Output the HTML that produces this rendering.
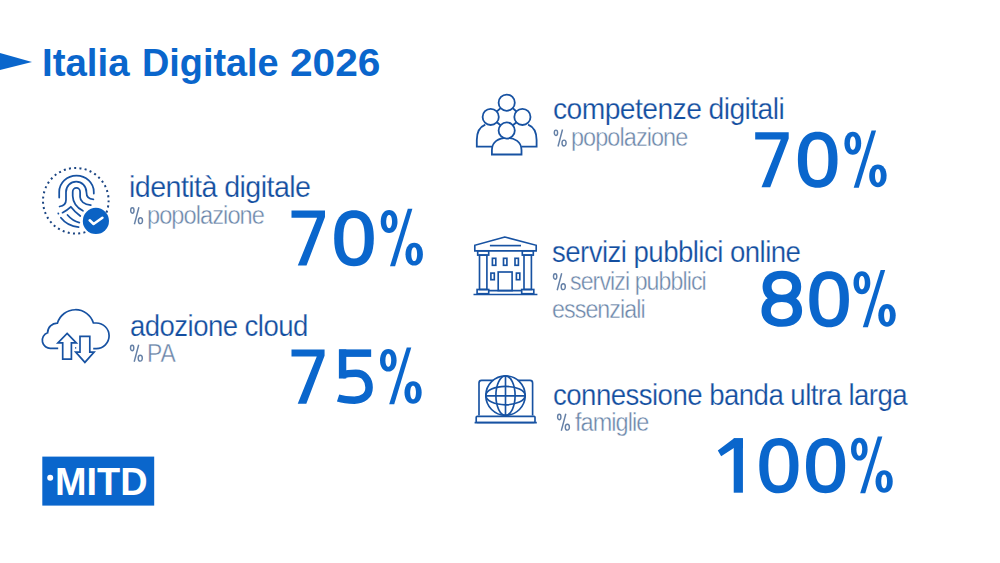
<!DOCTYPE html>
<html><head><meta charset="utf-8"><style>
html,body{margin:0;padding:0;background:#fff;width:1000px;height:563px;overflow:hidden}
.t{position:absolute;font-family:"Liberation Sans",sans-serif;line-height:1;white-space:nowrap;transform-origin:0 0}
svg{position:absolute;left:0;top:0}
</style></head><body>
<svg width="1000" height="563" viewBox="0 0 1000 563">
<polygon points="0,53 32,62 0,70" fill="#0a66cc"/>
<rect x="42.3" y="456.6" width="111.9" height="49" fill="#0a66cc"/>
<circle cx="50.2" cy="477.8" r="3" fill="#fff"/>
<g fill="none" stroke="#1752a2" stroke-width="1.75" stroke-linecap="round" stroke-linejoin="round">
<!-- fingerprint -->
<circle cx="75.8" cy="200.75" r="32.8" stroke-dasharray="2 3.284" stroke-dashoffset="0.537" stroke-width="2" stroke-linecap="butt" stroke="#1a4482"/>
<path d="M59.2,197.5 V192 A17.3,16.4 0 0 1 93.8,192 V193.6"/>
<path d="M59.6,206.5 C63,206 66,204.5 66,200 V192 A10.2,10.4 0 0 1 86.4,192 C86.4,196 88.5,199.2 93.4,199.3"/>
<path d="M82.9,210.8 C77.5,208 73,203 72.7,196 V192 A3.7,4 0 0 1 80.1,192 V197 C80.1,201 84,204.5 90.8,205.2"/>
<path d="M62.5,212.7 C65.5,211 68.5,209 70.8,206.8 C73.5,210.5 77,213.5 80.3,216"/>
<path d="M67.5,215 C70.5,218.5 74.5,221.5 79.3,222.6"/>
<path d="M60.9,217.7 C65,223 71,226.3 78.6,227.2"/>
<path d="M58.3,213.4 L58.4,213.6"/>
</g>
<circle cx="95.9" cy="220.9" r="13.1" fill="#0a62c4"/>
<path d="M89.7,220.3 L93.6,224 L102.4,217.8" fill="none" stroke="#fff" stroke-width="2.6" stroke-linecap="round" stroke-linejoin="round"/>
<g fill="none" stroke="#1752a2" stroke-width="1.7" stroke-linejoin="miter">
<!-- cloud -->
<path d="M58.2,348.3 H51 A8,8 0 0 1 47.6,332.8 A9.6,9.6 0 0 1 57.4,323.2 A18.8,18.8 0 0 1 93.4,323 H96.3 A12.8,12.8 0 0 1 96.3,348.6 H93.2"/><path d="M75.2,347.9 h1"/>
<polygon points="67.1,333.4 76.3,342.9 71.4,342.9 71.4,359.1 62.7,359.1 62.7,342.9 57.9,342.9"/>
<polygon points="80,336.4 89.8,336.4 89.8,352.1 94.1,352.1 84.9,362.4 75.7,352.1 80,352.1"/>
</g>
<g stroke="#1752a2" stroke-width="1.8" fill="#fff">
<!-- people -->
<path d="M496.8,111.5 L500.6,108.1 M516.3,111.5 L512.8,108.1 M496.9,122.2 L500.5,125.3 M516.5,122.2 L512.9,125.3" fill="none"/>
<path d="M485.3,124.6 C479.5,127 476.8,133 476.8,140 V146.7 H492"/>
<path d="M528.1,124.6 C533.9,127 536.6,133 536.6,140 V146.7 H521.5"/>
<circle cx="490.7" cy="116.9" r="8.1"/>
<circle cx="522.4" cy="116.9" r="8.1"/>
<circle cx="506.7" cy="102.7" r="8.1"/>
<path d="M491.9,154.5 V150 C491.9,142 498.5,137.8 506.7,137.8 C514.9,137.8 521.5,142 521.5,150 V154.5 Z"/>
<circle cx="506.7" cy="130.5" r="8.1"/>
</g>
<g stroke="#1752a2" stroke-width="1.65" fill="none">
<!-- building -->
<polygon points="504.9,237 474.8,245.3 474.8,250.8 536.2,250.8 536.2,245.3"/>
<line x1="489.9" y1="245.6" x2="521" y2="245.6"/>
<rect x="477.7" y="250.8" width="11" height="4.3"/>
<rect x="522.3" y="250.8" width="11" height="4.3"/>
<rect x="479.5" y="255.1" width="7.4" height="34.4"/>
<rect x="524" y="255.1" width="7.4" height="34.4"/>
<rect x="477.1" y="289.5" width="11.6" height="4.2"/>
<rect x="521.7" y="289.5" width="12.1" height="4.2"/>
<rect x="492.4" y="258.3" width="3.4" height="7"/>
<rect x="503.5" y="258.3" width="3.4" height="7"/>
<rect x="515" y="258.3" width="3.4" height="7"/>
<rect x="490.9" y="273.1" width="3.4" height="6.6"/>
<rect x="516.4" y="273.1" width="3.4" height="6.6"/>
<rect x="498.2" y="272" width="13.9" height="18.6"/>
<line x1="488.7" y1="290.6" x2="521.7" y2="290.6"/>
<line x1="473.5" y1="294.5" x2="537.4" y2="294.5"/>
<!-- globe laptop -->
<path d="M479,415.6 V383 Q479,380.4 481.6,380.4 H530 Q532.6,380.4 532.6,383 V415.6"/>
<rect x="476.2" y="416.3" width="58.8" height="6.2" rx="1"/>
<line x1="474.6" y1="422.6" x2="536.8" y2="422.6" stroke-width="1.6"/>
<circle cx="505.5" cy="395.6" r="19.7" fill="#fff"/>
<ellipse cx="505.5" cy="395.6" rx="19.7" ry="9.2"/>
<ellipse cx="505.5" cy="395.6" rx="9.6" ry="19.7"/>
<line x1="505.5" y1="376" x2="505.5" y2="415.3"/>
<line x1="485.8" y1="395.8" x2="525.2" y2="395.8"/>
</g>
<g transform="translate(291.5,265.6) scale(1.0)"><polygon points="0,-55 33.5,-55 33.5,-48.6 15,0 6.3,0 25.6,-47.8 0,-47.8" fill="#0a66cc"/></g>
<g transform="translate(334.2,265.6) scale(1.0)"><path d="M19.80,-55.40 C32.87,-55.40 39.60,-45.88 39.60,-27.40 C39.60,-8.92 32.87,0.60 19.80,0.60 C6.73,0.60 0.00,-8.92 0.00,-27.40 C0.00,-45.88 6.73,-55.40 19.80,-55.40 Z" fill="#0a66cc"/><path d="M19.80,-47.60 C27.50,-47.60 30.50,-41.94 30.50,-27.40 C30.50,-12.86 27.50,-7.20 19.80,-7.20 C12.10,-7.20 9.10,-12.86 9.10,-27.40 C9.10,-41.94 12.10,-47.60 19.80,-47.60 Z" fill="#fff"/></g>
<g transform="translate(380.7,265.6) scale(1.0)"><path d="M8.40,-55.50 C13.44,-55.50 16.80,-50.90 16.80,-44.00 C16.80,-37.10 13.44,-32.50 8.40,-32.50 C3.36,-32.50 0.00,-37.10 0.00,-44.00 C0.00,-50.90 3.36,-55.50 8.40,-55.50 Z" fill="#0a66cc"/><path d="M8.40,-50.60 C10.14,-50.60 11.30,-47.96 11.30,-44.00 C11.30,-40.04 10.14,-37.40 8.40,-37.40 C6.66,-37.40 5.50,-40.04 5.50,-44.00 C5.50,-47.96 6.66,-50.60 8.40,-50.60 Z" fill="#fff"/><path d="M33.50,-22.80 C38.72,-22.80 42.20,-18.24 42.20,-11.40 C42.20,-4.56 38.72,0.00 33.50,0.00 C28.28,0.00 24.80,-4.56 24.80,-11.40 C24.80,-18.24 28.28,-22.80 33.50,-22.80 Z" fill="#0a66cc"/><path d="M33.50,-18.30 C35.24,-18.30 36.40,-15.54 36.40,-11.40 C36.40,-7.26 35.24,-4.50 33.50,-4.50 C31.76,-4.50 30.60,-7.26 30.60,-11.40 C30.60,-15.54 31.76,-18.30 33.50,-18.30 Z" fill="#fff"/><polygon points="27.1,-56.8 31.7,-56.8 14.4,0.6 9.3,0.6" fill="#0a66cc"/></g>
<g transform="translate(291.5,403.7) scale(0.9872727272727272)"><polygon points="0,-55 33.5,-55 33.5,-48.6 15,0 6.3,0 25.6,-47.8 0,-47.8" fill="#0a66cc"/></g>
<g transform="translate(337.1,403.7) scale(0.9872727272727272)"><rect x="2.1" y="-55" width="32.4" height="7.6" fill="#0a66cc"/><rect x="1.8" y="-55" width="7.5" height="29.5" fill="#0a66cc"/><path d="M5.5,-29.2 C10,-30.6 15,-30.8 19,-30.8 C27.5,-30.8 32.4,-24.5 32.4,-16.5 C32.4,-8 26,-3.6 17.5,-3.6 C10,-3.6 5,-4.5 1,-5.8" fill="none" stroke="#0a66cc" stroke-width="7.6"/></g>
<g transform="translate(380.0,403.7) scale(0.9872727272727272)"><path d="M8.40,-55.50 C13.44,-55.50 16.80,-50.90 16.80,-44.00 C16.80,-37.10 13.44,-32.50 8.40,-32.50 C3.36,-32.50 0.00,-37.10 0.00,-44.00 C0.00,-50.90 3.36,-55.50 8.40,-55.50 Z" fill="#0a66cc"/><path d="M8.40,-50.60 C10.14,-50.60 11.30,-47.96 11.30,-44.00 C11.30,-40.04 10.14,-37.40 8.40,-37.40 C6.66,-37.40 5.50,-40.04 5.50,-44.00 C5.50,-47.96 6.66,-50.60 8.40,-50.60 Z" fill="#fff"/><path d="M33.50,-22.80 C38.72,-22.80 42.20,-18.24 42.20,-11.40 C42.20,-4.56 38.72,0.00 33.50,0.00 C28.28,0.00 24.80,-4.56 24.80,-11.40 C24.80,-18.24 28.28,-22.80 33.50,-22.80 Z" fill="#0a66cc"/><path d="M33.50,-18.30 C35.24,-18.30 36.40,-15.54 36.40,-11.40 C36.40,-7.26 35.24,-4.50 33.50,-4.50 C31.76,-4.50 30.60,-7.26 30.60,-11.40 C30.60,-15.54 31.76,-18.30 33.50,-18.30 Z" fill="#fff"/><polygon points="27.1,-56.8 31.7,-56.8 14.4,0.6 9.3,0.6" fill="#0a66cc"/></g>
<g transform="translate(755.2,187.2) scale(1.0)"><polygon points="0,-55 33.5,-55 33.5,-48.6 15,0 6.3,0 25.6,-47.8 0,-47.8" fill="#0a66cc"/></g>
<g transform="translate(797.9,187.2) scale(1.0)"><path d="M19.80,-55.40 C32.87,-55.40 39.60,-45.88 39.60,-27.40 C39.60,-8.92 32.87,0.60 19.80,0.60 C6.73,0.60 0.00,-8.92 0.00,-27.40 C0.00,-45.88 6.73,-55.40 19.80,-55.40 Z" fill="#0a66cc"/><path d="M19.80,-47.60 C27.50,-47.60 30.50,-41.94 30.50,-27.40 C30.50,-12.86 27.50,-7.20 19.80,-7.20 C12.10,-7.20 9.10,-12.86 9.10,-27.40 C9.10,-41.94 12.10,-47.60 19.80,-47.60 Z" fill="#fff"/></g>
<g transform="translate(844.4,187.2) scale(1.0)"><path d="M8.40,-55.50 C13.44,-55.50 16.80,-50.90 16.80,-44.00 C16.80,-37.10 13.44,-32.50 8.40,-32.50 C3.36,-32.50 0.00,-37.10 0.00,-44.00 C0.00,-50.90 3.36,-55.50 8.40,-55.50 Z" fill="#0a66cc"/><path d="M8.40,-50.60 C10.14,-50.60 11.30,-47.96 11.30,-44.00 C11.30,-40.04 10.14,-37.40 8.40,-37.40 C6.66,-37.40 5.50,-40.04 5.50,-44.00 C5.50,-47.96 6.66,-50.60 8.40,-50.60 Z" fill="#fff"/><path d="M33.50,-22.80 C38.72,-22.80 42.20,-18.24 42.20,-11.40 C42.20,-4.56 38.72,0.00 33.50,0.00 C28.28,0.00 24.80,-4.56 24.80,-11.40 C24.80,-18.24 28.28,-22.80 33.50,-22.80 Z" fill="#0a66cc"/><path d="M33.50,-18.30 C35.24,-18.30 36.40,-15.54 36.40,-11.40 C36.40,-7.26 35.24,-4.50 33.50,-4.50 C31.76,-4.50 30.60,-7.26 30.60,-11.40 C30.60,-15.54 31.76,-18.30 33.50,-18.30 Z" fill="#fff"/><polygon points="27.1,-56.8 31.7,-56.8 14.4,0.6 9.3,0.6" fill="#0a66cc"/></g>
<g transform="translate(761.9,326.7) scale(1.0)"><path d="M20.00,-55.90 C31.97,-55.90 39.30,-49.84 39.30,-39.95 C39.30,-30.06 31.97,-24.00 20.00,-24.00 C8.03,-24.00 0.70,-30.06 0.70,-39.95 C0.70,-49.84 8.03,-55.90 20.00,-55.90 Z" fill="#0a66cc"/><path d="M19.90,-32.10 C32.49,-32.10 40.20,-25.98 40.20,-16.00 C40.20,-6.02 32.49,0.10 19.90,0.10 C7.31,0.10 -0.40,-6.02 -0.40,-16.00 C-0.40,-25.98 7.31,-32.10 19.90,-32.10 Z" fill="#0a66cc"/><path d="M19.95,-47.90 C26.30,-47.90 30.20,-44.88 30.20,-39.95 C30.20,-35.02 26.30,-32.00 19.95,-32.00 C13.59,-32.00 9.70,-35.02 9.70,-39.95 C9.70,-44.88 13.59,-47.90 19.95,-47.90 Z" fill="#fff"/><path d="M19.90,-24.70 C26.94,-24.70 30.90,-21.60 30.90,-16.10 C30.90,-10.60 26.94,-7.50 19.90,-7.50 C12.86,-7.50 8.90,-10.60 8.90,-16.10 C8.90,-21.60 12.86,-24.70 19.90,-24.70 Z" fill="#fff"/></g>
<g transform="translate(809.3,326.7) scale(1.0)"><path d="M19.80,-55.40 C32.87,-55.40 39.60,-45.88 39.60,-27.40 C39.60,-8.92 32.87,0.60 19.80,0.60 C6.73,0.60 0.00,-8.92 0.00,-27.40 C0.00,-45.88 6.73,-55.40 19.80,-55.40 Z" fill="#0a66cc"/><path d="M19.80,-47.60 C27.50,-47.60 30.50,-41.94 30.50,-27.40 C30.50,-12.86 27.50,-7.20 19.80,-7.20 C12.10,-7.20 9.10,-12.86 9.10,-27.40 C9.10,-41.94 12.10,-47.60 19.80,-47.60 Z" fill="#fff"/></g>
<g transform="translate(853.5,326.7) scale(1.0)"><path d="M8.40,-55.50 C13.44,-55.50 16.80,-50.90 16.80,-44.00 C16.80,-37.10 13.44,-32.50 8.40,-32.50 C3.36,-32.50 0.00,-37.10 0.00,-44.00 C0.00,-50.90 3.36,-55.50 8.40,-55.50 Z" fill="#0a66cc"/><path d="M8.40,-50.60 C10.14,-50.60 11.30,-47.96 11.30,-44.00 C11.30,-40.04 10.14,-37.40 8.40,-37.40 C6.66,-37.40 5.50,-40.04 5.50,-44.00 C5.50,-47.96 6.66,-50.60 8.40,-50.60 Z" fill="#fff"/><path d="M33.50,-22.80 C38.72,-22.80 42.20,-18.24 42.20,-11.40 C42.20,-4.56 38.72,0.00 33.50,0.00 C28.28,0.00 24.80,-4.56 24.80,-11.40 C24.80,-18.24 28.28,-22.80 33.50,-22.80 Z" fill="#0a66cc"/><path d="M33.50,-18.30 C35.24,-18.30 36.40,-15.54 36.40,-11.40 C36.40,-7.26 35.24,-4.50 33.50,-4.50 C31.76,-4.50 30.60,-7.26 30.60,-11.40 C30.60,-15.54 31.76,-18.30 33.50,-18.30 Z" fill="#fff"/><polygon points="27.1,-56.8 31.7,-56.8 14.4,0.6 9.3,0.6" fill="#0a66cc"/></g>
<g transform="translate(717.8,492.7) scale(0.989090909090909)"><rect x="16.1" y="-55" width="9.3" height="55" fill="#0a66cc"/><polygon points="16.5,-55 25.4,-55 25.4,-45 17,-45.6 3.4,-36.8 0,-42.6" fill="#0a66cc"/></g>
<g transform="translate(759.3,492.7) scale(0.989090909090909)"><path d="M19.80,-55.40 C32.87,-55.40 39.60,-45.88 39.60,-27.40 C39.60,-8.92 32.87,0.60 19.80,0.60 C6.73,0.60 0.00,-8.92 0.00,-27.40 C0.00,-45.88 6.73,-55.40 19.80,-55.40 Z" fill="#0a66cc"/><path d="M19.80,-47.60 C27.50,-47.60 30.50,-41.94 30.50,-27.40 C30.50,-12.86 27.50,-7.20 19.80,-7.20 C12.10,-7.20 9.10,-12.86 9.10,-27.40 C9.10,-41.94 12.10,-47.60 19.80,-47.60 Z" fill="#fff"/></g>
<g transform="translate(806.0,492.7) scale(0.989090909090909)"><path d="M19.80,-55.40 C32.87,-55.40 39.60,-45.88 39.60,-27.40 C39.60,-8.92 32.87,0.60 19.80,0.60 C6.73,0.60 0.00,-8.92 0.00,-27.40 C0.00,-45.88 6.73,-55.40 19.80,-55.40 Z" fill="#0a66cc"/><path d="M19.80,-47.60 C27.50,-47.60 30.50,-41.94 30.50,-27.40 C30.50,-12.86 27.50,-7.20 19.80,-7.20 C12.10,-7.20 9.10,-12.86 9.10,-27.40 C9.10,-41.94 12.10,-47.60 19.80,-47.60 Z" fill="#fff"/></g>
<g transform="translate(851.0,492.7) scale(0.989090909090909)"><path d="M8.40,-55.50 C13.44,-55.50 16.80,-50.90 16.80,-44.00 C16.80,-37.10 13.44,-32.50 8.40,-32.50 C3.36,-32.50 0.00,-37.10 0.00,-44.00 C0.00,-50.90 3.36,-55.50 8.40,-55.50 Z" fill="#0a66cc"/><path d="M8.40,-50.60 C10.14,-50.60 11.30,-47.96 11.30,-44.00 C11.30,-40.04 10.14,-37.40 8.40,-37.40 C6.66,-37.40 5.50,-40.04 5.50,-44.00 C5.50,-47.96 6.66,-50.60 8.40,-50.60 Z" fill="#fff"/><path d="M33.50,-22.80 C38.72,-22.80 42.20,-18.24 42.20,-11.40 C42.20,-4.56 38.72,0.00 33.50,0.00 C28.28,0.00 24.80,-4.56 24.80,-11.40 C24.80,-18.24 28.28,-22.80 33.50,-22.80 Z" fill="#0a66cc"/><path d="M33.50,-18.30 C35.24,-18.30 36.40,-15.54 36.40,-11.40 C36.40,-7.26 35.24,-4.50 33.50,-4.50 C31.76,-4.50 30.60,-7.26 30.60,-11.40 C30.60,-15.54 31.76,-18.30 33.50,-18.30 Z" fill="#fff"/><polygon points="27.1,-56.8 31.7,-56.8 14.4,0.6 9.3,0.6" fill="#0a66cc"/></g>
<g transform="translate(130.1,224.1)" fill="none" stroke="#6580a6" stroke-width="1.45"><ellipse cx="2.25" cy="-13.6" rx="1.65" ry="2.7"/><ellipse cx="10.35" cy="-3.4" rx="2.05" ry="2.9"/><line x1="8.8" y1="-16.9" x2="4.3" y2="0.1"/></g>
<g transform="translate(129.9,361.6)" fill="none" stroke="#6580a6" stroke-width="1.45"><ellipse cx="2.25" cy="-13.6" rx="1.65" ry="2.7"/><ellipse cx="10.35" cy="-3.4" rx="2.05" ry="2.9"/><line x1="8.8" y1="-16.9" x2="4.3" y2="0.1"/></g>
<g transform="translate(553.7,146.4)" fill="none" stroke="#6580a6" stroke-width="1.45"><ellipse cx="2.25" cy="-13.6" rx="1.65" ry="2.7"/><ellipse cx="10.35" cy="-3.4" rx="2.05" ry="2.9"/><line x1="8.8" y1="-16.9" x2="4.3" y2="0.1"/></g>
<g transform="translate(552.9,290.1)" fill="none" stroke="#6580a6" stroke-width="1.45"><ellipse cx="2.25" cy="-13.6" rx="1.65" ry="2.7"/><ellipse cx="10.35" cy="-3.4" rx="2.05" ry="2.9"/><line x1="8.8" y1="-16.9" x2="4.3" y2="0.1"/></g>
<g transform="translate(557,430.6)" fill="none" stroke="#6580a6" stroke-width="1.45"><ellipse cx="2.25" cy="-13.6" rx="1.65" ry="2.7"/><ellipse cx="10.35" cy="-3.4" rx="2.05" ry="2.9"/><line x1="8.8" y1="-16.9" x2="4.3" y2="0.1"/></g>
</svg>

<div class="t" style="left:42.41px;top:42.60px;font-size:39.3px;font-weight:700;color:#0a66cc;letter-spacing:0px;transform:scaleX(0.9775)">Italia</div>
<div class="t" style="left:142.15px;top:42.60px;font-size:39.3px;font-weight:700;color:#0a66cc;letter-spacing:0px;transform:scaleX(0.9627)">Digitale</div>
<div class="t" style="left:289.98px;top:42.60px;font-size:39.3px;font-weight:700;color:#0a66cc;letter-spacing:0px;transform:scaleX(1.0343)">2026</div>
<div class="t" style="left:128.99px;top:172.10px;font-size:30px;font-weight:400;color:#134ea0;letter-spacing:-0.6px;-webkit-text-stroke:0.25px #fff;transform:scaleX(0.9551)">identità digitale</div>
<div class="t" style="left:147.15px;top:203.05px;font-size:25px;font-weight:400;color:#6b86a9;letter-spacing:-1.0px;-webkit-text-stroke:0.4px #fff;transform:scaleX(0.9443)">popolazione</div>
<div class="t" style="left:129.70px;top:311.30px;font-size:30px;font-weight:400;color:#134ea0;letter-spacing:-0.6px;-webkit-text-stroke:0.25px #fff;transform:scaleX(0.9188)">adozione cloud</div>
<div class="t" style="left:147.47px;top:340.55px;font-size:25px;font-weight:400;color:#6b86a9;letter-spacing:0px;-webkit-text-stroke:0.4px #fff;transform:scaleX(0.9153)">PA</div>
<div class="t" style="left:552.57px;top:93.80px;font-size:30px;font-weight:400;color:#134ea0;letter-spacing:-0.6px;-webkit-text-stroke:0.25px #fff;transform:scaleX(0.9419)">competenze digitali</div>
<div class="t" style="left:571.26px;top:125.35px;font-size:25px;font-weight:400;color:#6b86a9;letter-spacing:-1.0px;-webkit-text-stroke:0.4px #fff;transform:scaleX(0.9393)">popolazione</div>
<div class="t" style="left:552.27px;top:237.30px;font-size:30px;font-weight:400;color:#134ea0;letter-spacing:-0.6px;-webkit-text-stroke:0.25px #fff;transform:scaleX(0.9209)">servizi pubblici online</div>
<div class="t" style="left:570.41px;top:269.05px;font-size:25px;font-weight:400;color:#6b86a9;letter-spacing:-1.0px;-webkit-text-stroke:0.4px #fff;transform:scaleX(0.9262)">servizi pubblici</div>
<div class="t" style="left:552.47px;top:297.45px;font-size:25px;font-weight:400;color:#6b86a9;letter-spacing:-1.0px;-webkit-text-stroke:0.4px #fff;transform:scaleX(0.9296)">essenziali</div>
<div class="t" style="left:552.89px;top:379.50px;font-size:30px;font-weight:400;color:#134ea0;letter-spacing:-0.6px;-webkit-text-stroke:0.25px #fff;transform:scaleX(0.9208)">connessione banda ultra larga</div>
<div class="t" style="left:575.27px;top:409.55px;font-size:25px;font-weight:400;color:#6b86a9;letter-spacing:-1.0px;-webkit-text-stroke:0.4px #fff;transform:scaleX(0.9389)">famiglie</div>
<div class="t" style="left:54.75px;top:461.51px;font-size:39.4px;font-weight:700;color:#fff;letter-spacing:0px;transform:scaleX(0.9608)">MITD</div>
</body></html>
